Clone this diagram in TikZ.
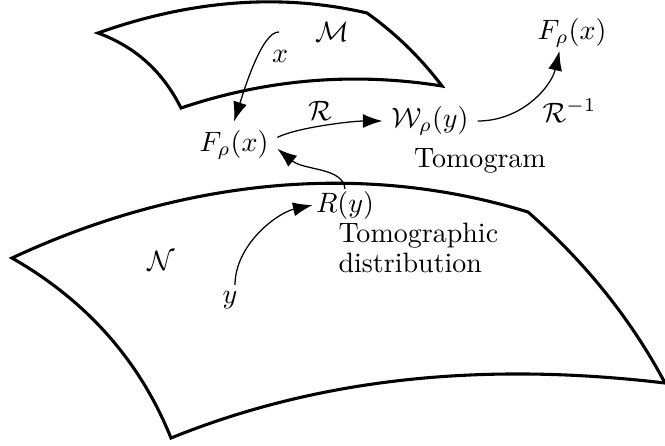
\documentclass[tikz,border=0pt]{standalone}
\usepackage{amsmath}
\usetikzlibrary{arrows.meta}
\begin{document}
\begin{tikzpicture}[x=0.357pt,y=-0.357pt,
  surf/.style={line width=1.1pt, line join=miter},
  conn/.style={line width=0.45pt, -{Latex[length=7pt,width=5pt]}},
  lbl/.style={inner sep=0pt, anchor=base},
  mnode/.style={inner sep=3pt}]
\useasboundingbox (0,0) rectangle (665,445);
% surface M
\draw[surf] (98,33) .. controls (191,0) and (281,-7) .. (367,13)
  .. controls (395,33) and (420,57) .. (442,86)
  .. controls (354,72) and (267,79) .. (181,108)
  .. controls (163,72) and (136,47) .. cycle;
% surface N
\draw[surf] (12,258) .. controls (175,182) and (356,159) .. (528,212)
  .. controls (585,262) and (631,319) .. (665,383)
  .. controls (496,363) and (329,374) .. (171,438)
  .. controls (140,361) and (87,301) .. cycle;
% main nodes
\node[mnode] (F) at (234,145) {$F_\rho(x)$};
\node[mnode] (W) at (430,121) {$\mathcal{W}_\rho(y)$};
\node[inner xsep=1pt, inner ysep=0.5pt] (Ry) at (345,205) {$R(y)$};
\node[inner sep=1pt] (F2) at (572,33) {$F_\rho(x)$};
% labels
\node[lbl] (Mlab) at (332,41) {$\mathcal{M}$};
\node[lbl] (xlab) at (280,62) {$x$};
\node[lbl] (Rlab) at (320,120) {$\mathcal{R}$};
\node[lbl, anchor=base west] (Rinv) at (542,122) {$\mathcal{R}^{-1}$};
\node[lbl] (tomo) at (480,167) {Tomogram};
\node[lbl, anchor=base west, align=left, font=\fontsize{10}{10.7}\selectfont] (tdist) at (338,272) {Tomographic\\distribution};
\node[lbl] (Nlab) at (161,270) {$\mathcal{N}$};
\node[lbl] (ylab) at (230,303) {$y$};
% connectors
\coordinate (xs) at (279,32);
\coordinate (ys) at (235,285);
\draw[conn] (xs) .. controls +(-17,-1) and +(10,-31) .. (F.north);
\draw[conn] (F.10) .. controls +(20,-10) and +(-30,0) .. (W.west);
\draw[conn] (Ry.north) .. controls +(-2,-22) and +(27,22) .. (F.-5);
\draw[conn] (ys) .. controls +(0,-40) and +(-36,8) .. (Ry.west);
\draw[conn] (W.east) .. controls +(45,0) and +(-8,35) .. (F2.-125);
\end{tikzpicture}
\end{document}
